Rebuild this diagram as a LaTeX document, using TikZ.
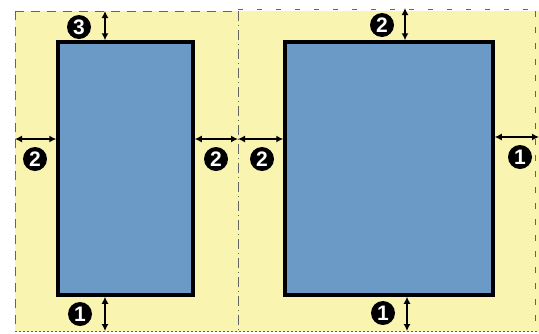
\documentclass[tikz,border=0pt]{standalone}
\usepackage{fontspec}
\setmainfont{Liberation Sans}
\usetikzlibrary{arrows.meta}
\definecolor{paper}{RGB}{249,245,176}
\definecolor{textblock}{RGB}{108,154,198}
\definecolor{guide}{RGB}{100,100,100}
\begin{document}
\begin{tikzpicture}[x=1pt,y=-1pt,
  block/.style={draw=black, line width=3.5pt, fill=textblock, rectangle, inner sep=0pt},
  dim/.style={{Latex[length=7pt,width=7pt]}-{Latex[length=7pt,width=7pt]}, line width=1.3pt},
  badge/.style={circle, fill=black, text=white, inner sep=0pt, minimum size=24pt,
    font=\fontsize{21}{21}\selectfont\bfseries},
  guideline/.style={guide, line width=0.9pt}]
\useasboundingbox (0,0) rectangle (539,333);
\fill[paper] (15,11) rectangle (539,332);
\draw[guideline, dash pattern=on 9pt off 7pt] (15,11) -- (15,331) (15,11) -- (238,11);
\draw[guideline, dash pattern=on 10pt off 4pt on 1pt off 4pt] (238,11) -- (238,332);
\draw[guideline, dash pattern=on 5pt off 14pt] (238,9) -- (536,9);
\draw[guideline, line width=1pt, dash pattern=on 2pt off 2pt] (15,331) -- (539,331);
\draw[guideline, line width=0.4pt, dash pattern=on 6pt off 10pt] (535,11) -- (535,331);
\node[block, minimum width=135pt, minimum height=253pt] (lblock) at (125.5,168.5) {};
\node[block, minimum width=208pt, minimum height=253pt] (rblock) at (389,168.5) {};
\coordinate (t3) at (105,11);
\coordinate (b1) at (105,331);
\coordinate (l2) at (15,139);
\coordinate (mid) at (238,139);
\coordinate (r1) at (539,137);
\coordinate (t2) at (405,8);
\coordinate (b1r) at (407,331);
\draw[dim] (t3) -- (t3 |- lblock.north);
\draw[dim] (lblock.south -| b1) -- (b1);
\draw[dim] (l2) -- (l2 -| lblock.west);
\draw[dim] (lblock.east |- mid) -- (mid);
\draw[dim] (mid) -- (mid -| rblock.west);
\draw[dim] (rblock.east |- r1) -- (r1);
\draw[dim] (t2) -- (t2 |- rblock.north);
\draw[dim] (rblock.south -| b1r) -- (b1r);
\node[badge] (n3) at (79,27) {3};
\node[badge] (n2a) at (35,159) {2};
\node[badge] (n2b) at (216,159) {2};
\node[badge] (n2c) at (262,159) {2};
\node[badge] (n1a) at (520,157) {1};
\node[badge] (n2d) at (382,25) {2};
\node[badge] (n1b) at (80,314) {1};
\node[badge] (n1c) at (383,313) {1};
\end{tikzpicture}
\end{document}
